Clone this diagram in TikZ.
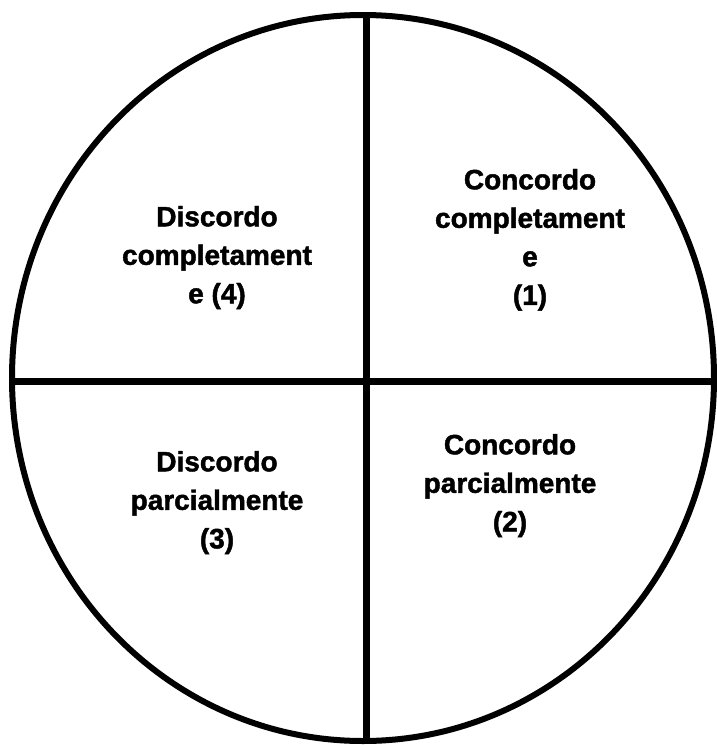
\documentclass[tikz,border=0pt]{standalone}
\usepackage{fontspec}
\setmainfont{Liberation Sans}
\usetikzlibrary{shapes.geometric}
\begin{document}
\begin{tikzpicture}[x=1pt,y=-1pt,
  lbl/.style={align=center,anchor=north,inner sep=0pt,outer sep=0pt,
    font=\fontsize{28}{38.5}\selectfont\bfseries\addfontfeature{FakeBold=1.6}},
  divider/.style={line width=7pt}]
\useasboundingbox (0,0) rectangle (716,745);
\node[ellipse,draw,line width=6pt,minimum width=702pt,minimum height=726pt,inner sep=0pt,outer sep=0pt] (circ) at (363,378) {};
\coordinate (top) at (366,15);
\coordinate (bot) at (366,741);
\coordinate (lft) at (12,381);
\coordinate (rgt) at (714,381);
\draw[divider] (top) -- (bot);
\draw[divider] (lft) -- (rgt);
\node[lbl] (q1) at (530,169) {Concordo\\completament\\e\\(1)};
\node[lbl] (q4) at (217,206) {Discordo\\completament\\e (4)};
\node[lbl] (q3) at (217,451) {Discordo\\parcialmente\\(3)};
\node[lbl] (q2) at (510,434) {Concordo\\parcialmente\\(2)};
\end{tikzpicture}
\end{document}
